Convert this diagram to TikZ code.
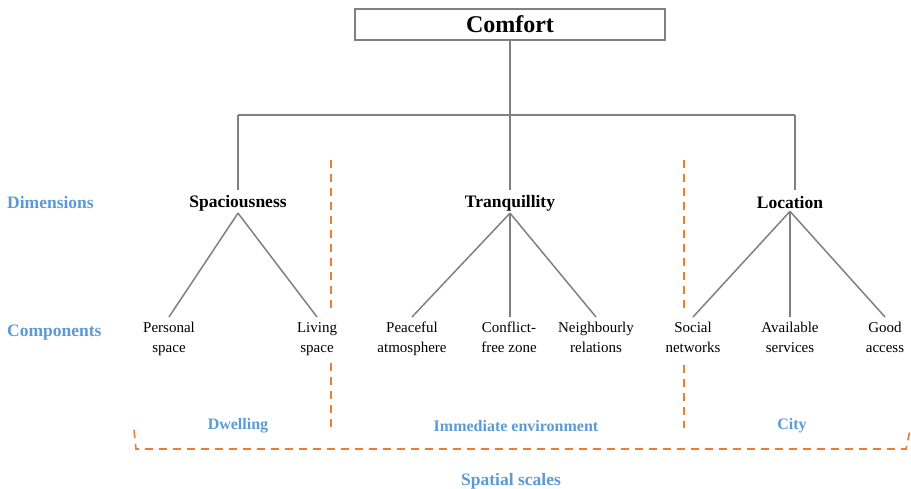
\documentclass[tikz,border=0pt]{standalone}
\usepackage{fontspec}
\setmainfont{Liberation Serif}
\begin{document}
\begin{tikzpicture}[x=1pt,y=-1pt,
  tree/.style={draw=treegray,line width=2pt},
  branch/.style={draw=treegray,line width=1.5pt},
  scale line/.style={draw=scaleorange,line width=1.6pt,dash pattern=on 8pt off 6pt},
  dim/.style={font=\fontsize{17.5}{20}\selectfont\bfseries,inner sep=2pt},
  comp/.style={font=\fontsize{15}{20}\selectfont,align=center,inner sep=1pt,anchor=north},
  side/.style={font=\fontsize{17.5}{20}\selectfont\bfseries,text=labelblue,anchor=west,inner sep=0pt},
  scalelab/.style={font=\fontsize{16}{19}\selectfont\bfseries,text=labelblue,inner sep=0pt}]
\definecolor{treegray}{RGB}{128,128,128}
\definecolor{scaleorange}{RGB}{237,125,49}
\definecolor{labelblue}{RGB}{91,155,213}
\useasboundingbox (0,0) rectangle (911,489);
% root
\node[draw=treegray,line width=1.8pt,minimum width=310pt,minimum height=31pt,inner sep=0pt,
  font=\fontsize{24}{26}\selectfont\bfseries] (comfort) at (510,24.5) {Comfort};
% dimensions
\node[dim] (spa) at (238,203) {Spaciousness};
\node[dim] (tra) at (510,203) {Tranquillity};
\node[dim] (loc) at (790,203) {Location};
\coordinate (hub) at (510,115);
\coordinate (hl) at (238,115);
\coordinate (hr) at (795,115);
\draw[tree] (comfort.south) -- (hub);
\draw[tree] (hl) -- (hr);
\draw[tree] (hl) -- (238,190);
\draw[tree] (hub) -- (510,190);
\draw[tree] (hr) -- (795,190);
% components
\node[comp] (ps) at (169,317) {Personal\strut\\space\strut};
\node[comp] (ls) at (317,317) {Living\strut\\space\strut};
\node[comp] (pa) at (412,317) {Peaceful\strut\\atmosphere\strut};
\node[comp] (cf) at (509,317) {Conflict-\strut\\free zone\strut};
\node[comp] (nr) at (596,317) {Neighbourly\strut\\relations\strut};
\node[comp] (sn) at (693,317) {Social\strut\\networks\strut};
\node[comp] (as) at (790,317) {Available\strut\\services\strut};
\node[comp] (ga) at (885,317) {Good\strut\\access\strut};
\draw[branch] (spa.south) -- (ps.north);
\draw[branch] (spa.south) -- (ls.north);
\draw[branch] (tra.south) -- (pa.north);
\draw[branch] (tra.south) -- (tra.south |- cf.north);
\draw[branch] (tra.south) -- (nr.north);
\draw[branch] (loc.south) -- (sn.north);
\draw[branch] (loc.south) -- (as.north);
\draw[branch] (loc.south) -- (ga.north);
% side labels
\node[side] (dl) at (7,203) {Dimensions};
\node[side] (cl) at (7,333) {Components};
% spatial scales
\coordinate (d1t) at (331,160);
\coordinate (d1m) at (331,312);
\coordinate (d1n) at (331,363);
\coordinate (d1b) at (331,428);
\coordinate (d2t) at (684,160);
\coordinate (d2m) at (684,312);
\coordinate (d2n) at (684,365);
\coordinate (d2b) at (684,428);
\draw[scale line] (d1t) -- (d1m);
\draw[scale line] (d1n) -- (d1b);
\draw[scale line] (d2t) -- (d2m);
\draw[scale line] (d2n) -- (d2b);
\coordinate (b1) at (134,430);
\coordinate (b2) at (136,449);
\coordinate (b3) at (906,449);
\coordinate (b4) at (910,430);
\draw[scale line] (b1) -- (b2) -- (b3) -- (b4);
\node[scalelab] (dw) at (238,426) {Dwelling};
\node[scalelab] (ie) at (516,426) {Immediate environment};
\node[scalelab] (ci) at (792,426) {City};
\node[scalelab,font=\fontsize{17.5}{20}\selectfont\bfseries] (ss) at (511,481) {Spatial scales};
\end{tikzpicture}
\end{document}
